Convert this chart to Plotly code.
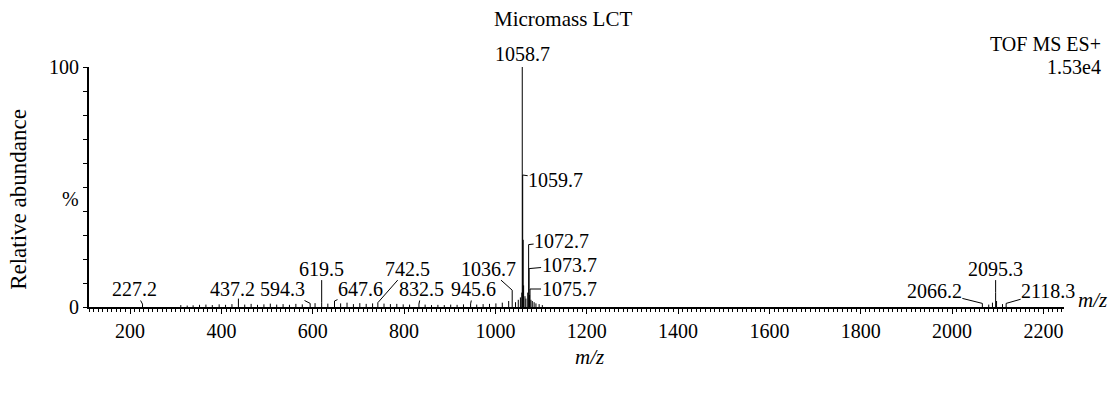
import plotly.graph_objects as go

# ---------------- data ----------------
# labelled peaks (m/z, relative abundance %)
label_mz = [227.2, 437.2, 594.3, 619.5, 647.6, 742.5, 832.5, 945.6, 1036.7,
            1058.7, 1059.7, 1072.7, 1073.7, 1075.7, 2066.2, 2095.3, 2118.3]
label_int = [1.2, 3.5, 1.5, 2.0, 2.5, 1.8, 1.2, 1.3, 7.0,
             100.0, 55.0, 26.0, 16.0, 7.5, 1.5, 6.0, 1.5]
label_text = ["227.2", "437.2", "594.3", "619.5", "647.6", "742.5", "832.5", "945.6", "1036.7",
              "1058.7", "1059.7", "1072.7", "1073.7", "1075.7", "2066.2", "2095.3", "2118.3"]

# unlabelled peaks (m/z, relative abundance %)
other_mz = [311, 325, 338, 352, 366, 380, 395, 409, 423, 451, 465, 479, 493, 507,
            521, 535, 549, 563, 577, 605, 633, 661, 675, 689, 703, 717, 731, 756,
            770, 784, 798, 812, 846, 860, 874, 888, 902, 916, 930, 959, 973, 987,
            1001, 1015, 1029, 1044, 1050, 1054.7, 1057.7, 1060.7, 1061.7, 1064.7,
            1066.7, 1070.7, 1074.7, 1077.7, 1080.7, 1084.7, 1088.7, 1095.7, 1102.7,
            2080.2, 2088.3, 2097.3, 2110.3]
other_int = [0.8, 0.6, 0.7, 0.9, 1.0, 0.8, 1.1, 0.9, 1.2, 1.0, 1.3, 0.9, 1.1, 1.4,
             1.0, 1.2, 0.9, 1.3, 1.1, 1.6, 1.4, 1.5, 1.8, 1.2, 1.6, 1.3, 1.5, 1.4,
             1.2, 1.3, 1.1, 1.0, 1.0, 0.8, 0.9, 0.8, 1.0, 0.9, 1.1, 1.0, 1.2, 1.3,
             1.5, 1.8, 2.5, 2.0, 3.0, 4.0, 6.0, 28.0, 9.0, 4.5,
             3.5, 6.0, 5.0, 3.0, 2.5, 2.0, 1.5, 1.2, 0.8,
             1.0, 1.8, 2.5, 1.2]

x_tick_vals = [200, 400, 600, 800, 1000, 1200, 1400, 1600, 1800, 2000, 2200]
y_tick_vals = [0, 10, 20, 30, 40, 50, 60, 70, 80, 90, 100]
y_tick_text = ["0", "", "", "", "", "", "", "", "", "", "100"]
percent_label_y = 45

# ---------------- label placement (style) ----------------
# horizontal offset of label centre from the peak (px), and label centre height (axis units)
label_dx = [-8, -6, -28, 0, 26, 30, 3, 3, -24,
            0, 33, 33, 40, 39, -48, 0, 42]
label_y = [7.5, 7.5, 7.5, 16.0, 7.5, 16.0, 7.5, 7.5, 16.0,
           None, 53.0, 27.5, 17.5, 7.5, 6.5, 16.0, 6.5]

FONT = "Liberation Serif, Times New Roman, serif"
FS = 20

# ---------------- build stick spectrum ----------------
all_mz = label_mz + other_mz
all_int = label_int + other_int
pairs = sorted(zip(all_mz, all_int))
xs, ys = [], []
for m, h in pairs:
    xs += [m, m, None]
    ys += [0, h, None]

fig = go.Figure()
fig.add_trace(go.Scatter(x=xs, y=ys, mode="lines",
                         line=dict(color="black", width=1),
                         hoverinfo="skip", showlegend=False))

annotations = []
for m, h, t, dx, ly in zip(label_mz, label_int, label_text, label_dx, label_y):
    if ly is None:
        annotations.append(dict(x=m, y=h, xref="x", yref="y", text=t, showarrow=False,
                                yanchor="bottom", yshift=0,
                                font=dict(family=FONT, size=FS, color="black")))
    else:
        annotations.append(dict(x=m, y=h, xref="x", yref="y", text=t, showarrow=True,
                                arrowhead=0, arrowwidth=1, arrowcolor="black",
                                axref="pixel", ax=dx, ayref="y", ay=ly,
                                borderpad=0,
                                font=dict(family=FONT, size=FS, color="black")))

annotations += [
    dict(text="%", xref="paper", yref="y", x=0, y=percent_label_y, xshift=-8,
         xanchor="right", yanchor="middle", showarrow=False,
         font=dict(family=FONT, size=FS, color="black")),
    dict(text="Micromass LCT", xref="paper", yref="paper", x=0.486, y=1.20,
         xanchor="center", yanchor="middle", showarrow=False,
         font=dict(family=FONT, size=FS + 1, color="black")),
    dict(text="TOF MS ES+", xref="paper", yref="paper", x=1.04, y=1.095,
         xanchor="right", yanchor="middle", showarrow=False,
         font=dict(family=FONT, size=FS, color="black")),
    dict(text="1.53e4", xref="paper", yref="paper", x=1.04, y=0.998,
         xanchor="right", yanchor="middle", showarrow=False,
         font=dict(family=FONT, size=FS, color="black")),
    dict(text="Relative abundance", xref="paper", yref="paper", x=-0.073, y=0.45,
         xanchor="center", yanchor="middle", textangle=-90, showarrow=False,
         font=dict(family=FONT, size=23, color="black")),
    dict(text="<i>m/z</i>", xref="paper", yref="paper", x=0.513, y=-0.21,
         xanchor="center", yanchor="middle", showarrow=False,
         font=dict(family=FONT, size=FS + 1, color="black")),
    dict(text="<i>m/z</i>", xref="paper", yref="paper", x=1.012, y=0.03,
         xanchor="left", yanchor="middle", showarrow=False,
         font=dict(family=FONT, size=FS + 1, color="black")),
]

fig.update_layout(
    width=1114, height=393,
    margin=dict(l=89, r=50, t=67, b=86),
    paper_bgcolor="white", plot_bgcolor="white",
    font=dict(family=FONT, size=FS, color="black"),
    annotations=annotations,
    showlegend=False,
)
fig.update_xaxes(range=[110, 2245], showline=True, linecolor="black", linewidth=2,
                 ticks="outside", ticklen=5, tickwidth=1, tickcolor="black",
                 tickvals=x_tick_vals,
                 minor=dict(dtick=10, ticklen=3, tickwidth=1, tickcolor="black", ticks="outside", showgrid=False),
                 showgrid=False, zeroline=False,
                 tickfont=dict(family=FONT, size=FS, color="black"))
fig.update_yaxes(range=[0, 100], showline=True, linecolor="black", linewidth=2,
                 ticks="outside", ticklen=4, tickwidth=1, tickcolor="black",
                 tickvals=y_tick_vals, ticktext=y_tick_text,
                 showgrid=False, zeroline=False,
                 tickfont=dict(family=FONT, size=FS, color="black"))

fig.write_html("out.html")
